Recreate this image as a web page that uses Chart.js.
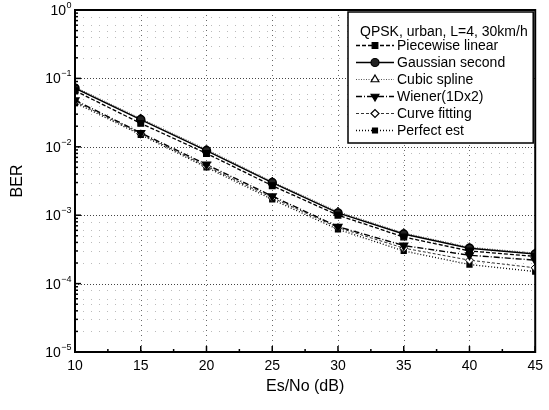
<!DOCTYPE html>
<html>
<head>
<meta charset="utf-8">
<script src="https://cdn.jsdelivr.net/npm/chart.js@4.4.1/dist/chart.umd.min.js"></script>
<style>
  html, body { margin: 0; padding: 0; background: #fff; }
  #wrap { width: 549px; height: 410px; }
</style>
</head>
<body>
<div id="wrap"><canvas id="myChart" width="549" height="410"></canvas></div>
<script>
// values
var snr = [10, 15, 20, 25, 30, 35, 40, 45];
var piecewise = [0.066, 0.022, 0.0080, 0.0027, 0.00100, 0.00048, 0.00030, 0.00025];
var gaussian  = [0.072, 0.025, 0.0088, 0.0030, 0.00108, 0.00053, 0.00033, 0.00027];
var cubic     = [0.075, 0.026, 0.0092, 0.0031, 0.00113, 0.00055, 0.00034, 0.00028];
var wiener    = [0.048, 0.016, 0.0055, 0.0019, 0.00068, 0.00036, 0.00026, 0.00022];
var curvefit  = [0.046, 0.0155, 0.0052, 0.0018, 0.00066, 0.00033, 0.00022, 0.00017];
var perfect   = [0.044, 0.015, 0.0050, 0.0017, 0.00062, 0.00030, 0.00019, 0.00015];
var xTicks = [10, 15, 20, 25, 30, 35, 40, 45];
var yExps = [0, -1, -2, -3, -4, -5];
var legendTitle = 'QPSK, urban, L=4, 30km/h';
var FONT = '"Liberation Sans", Arial, sans-serif';

function pts(arr) {
  var out = [];
  for (var i = 0; i < snr.length; i++) out.push({x: snr[i], y: arr[i]});
  return out;
}

var gridPlugin = {
  id: 'gridPlugin',
  beforeDatasetsDraw: function(chart) {
    var ctx = chart.ctx, a = chart.chartArea;
    var xs = chart.scales.x, ys = chart.scales.y;
    ctx.save();
    ctx.lineWidth = 1;
    // minor horizontal dotted lines
    ctx.strokeStyle = '#bbb';
    ctx.setLineDash([1, 7]);
    for (var e = -5; e < 0; e++) {
      for (var m = 2; m <= 9; m++) {
        if (m === 7 || m === 9) continue;
        var py = Math.round(ys.getPixelForValue(m * Math.pow(10, e))) + 0.5;
        ctx.beginPath(); ctx.moveTo(a.left, py); ctx.lineTo(a.right, py); ctx.stroke();
      }
    }
    // major dotted lines
    ctx.strokeStyle = '#444';
    ctx.setLineDash([1, 2]);
    for (var k = -4; k < 0; k++) {
      var py2 = Math.round(ys.getPixelForValue(Math.pow(10, k))) + 0.5;
      ctx.beginPath(); ctx.moveTo(a.left, py2); ctx.lineTo(a.right, py2); ctx.stroke();
    }
    ctx.strokeStyle = '#666';
    ctx.setLineDash([1, 4]);
    for (var i = 1; i < xTicks.length - 1; i++) {
      var px = Math.round(xs.getPixelForValue(xTicks[i])) + 0.5;
      ctx.beginPath(); ctx.moveTo(px, a.top); ctx.lineTo(px, a.bottom); ctx.stroke();
    }
    ctx.restore();
  },
  afterDraw: function(chart) {
    var ctx = chart.ctx, a = chart.chartArea;
    var xs = chart.scales.x, ys = chart.scales.y;
    ctx.save();
    // frame
    ctx.strokeStyle = '#000';
    ctx.lineWidth = 2;
    ctx.strokeRect(a.left, a.top, a.right - a.left, a.bottom - a.top);
    // inward tick marks
    ctx.lineWidth = 1.5;
    for (var v = 10; v <= 45; v += 2.5) {
      var px = xs.getPixelForValue(v);
      var len = (v % 5 === 0) ? 6 : 3;
      ctx.beginPath(); ctx.moveTo(px, a.bottom); ctx.lineTo(px, a.bottom - len); ctx.stroke();
    }
    for (var e = -5; e < 0; e++) {
      for (var m = 1; m <= 9; m++) {
        var py = ys.getPixelForValue(m * Math.pow(10, e));
        var l2 = m === 1 ? 6 : 3;
        ctx.beginPath(); ctx.moveTo(a.left, py); ctx.lineTo(a.left + l2, py); ctx.stroke();
      }
    }
    // y tick labels with superscript exponents
    ctx.fillStyle = '#000';
    ctx.textBaseline = 'alphabetic';
    yExps.forEach(function(ex) {
      var py = ys.getPixelForValue(Math.pow(10, ex));
      ctx.textAlign = 'left';
      var expTxt = String(ex).replace('-', '\u2212');
      ctx.font = '9px ' + FONT;
      var ew = ctx.measureText(expTxt).width;
      ctx.font = '14px ' + FONT;
      var bw = ctx.measureText('10').width;
      var x0 = a.left - 4 - ew - bw;
      ctx.fillText('10', x0, py + 5);
      ctx.font = '9px ' + FONT;
      ctx.fillText(expTxt, x0 + bw + 0.5, py - 2);
    });
    // legend box
    var bx = 348, by = 12, bw2 = a.right - 2 - bx, bh = 131;
    ctx.fillStyle = '#fff';
    ctx.fillRect(bx, by, bw2, bh);
    ctx.strokeStyle = '#000';
    ctx.lineWidth = 1.5;
    ctx.strokeRect(bx, by, bw2, bh);
    ctx.fillStyle = '#000';
    ctx.font = '14px ' + FONT;
    ctx.textBaseline = 'middle';
    ctx.textAlign = 'left';
    ctx.fillText(legendTitle, 360, 32);
    chart.data.datasets.forEach(function(ds, i) {
      var yy = 45.5 + i * 17;
      ctx.save();
      ctx.strokeStyle = ds.borderColor;
      ctx.lineWidth = ds.borderWidth;
      ctx.setLineDash(ds.borderDash || []);
      ctx.beginPath(); ctx.moveTo(356, yy); ctx.lineTo(394, yy); ctx.stroke();
      ctx.setLineDash([]);
      ctx.fillStyle = ds.pointBackgroundColor;
      ctx.strokeStyle = ds.pointBorderColor;
      ctx.lineWidth = 1.2;
      Chart.helpers.drawPoint(ctx, {
        pointStyle: ds.pointStyle, rotation: ds.pointRotation || 0,
        radius: ds.pointRadius, borderWidth: 1.2
      }, 375, yy);
      ctx.restore();
      ctx.fillStyle = '#000';
      ctx.fillText(ds.label, 397, yy + 0.5);
    });
    ctx.restore();
  }
};

var ctx = document.getElementById('myChart').getContext('2d');
var myChart = new Chart(ctx, {
  type: 'line',
  data: {
    datasets: [{
      label: 'Piecewise linear', data: pts(piecewise),
      borderColor: '#000', borderWidth: 1.3, borderDash: [4, 2],
      pointStyle: 'rect', pointRadius: 4, pointBackgroundColor: '#000', pointBorderColor: '#000'
    }, {
      label: 'Gaussian second', data: pts(gaussian),
      borderColor: '#000', borderWidth: 1.5,
      pointStyle: 'circle', pointRadius: 4, pointBackgroundColor: '#222', pointBorderColor: '#000'
    }, {
      label: 'Cubic spline', data: pts(cubic),
      borderColor: '#555', borderWidth: 1, borderDash: [1, 1.5],
      pointStyle: 'triangle', pointRadius: 4.5, pointBackgroundColor: '#fff', pointBorderColor: '#000'
    }, {
      label: 'Wiener(1Dx2)', data: pts(wiener),
      borderColor: '#000', borderWidth: 1.4, borderDash: [6, 2, 1, 2],
      pointStyle: 'triangle', pointRotation: 180, pointRadius: 4.5, pointBackgroundColor: '#000', pointBorderColor: '#000'
    }, {
      label: 'Curve fitting', data: pts(curvefit),
      borderColor: '#333', borderWidth: 1, borderDash: [3, 2],
      pointStyle: 'rectRot', pointRadius: 4, pointBackgroundColor: '#fff', pointBorderColor: '#000'
    }, {
      label: 'Perfect est', data: pts(perfect),
      borderColor: '#000', borderWidth: 1.3, borderDash: [1, 2],
      pointStyle: 'rect', pointRadius: 3.5, pointBackgroundColor: '#000', pointBorderColor: '#000'
    }]
  },
  options: {
    responsive: false,
    animation: false,
    layout: { padding: { top: 10, right: 13, left: 0, bottom: 14 } },
    plugins: { legend: { display: false }, tooltip: { enabled: false } },
    elements: { line: { tension: 0 } },
    scales: {
      x: {
        type: 'linear', min: 10, max: 45,
        afterBuildTicks: function(s) { s.ticks = xTicks.map(function(v) { return {value: v}; }); },
        afterFit: function(s) { s.height = 44; },
        grid: { display: false, drawTicks: false, tickLength: 0 },
        border: { display: false },
        ticks: { color: '#000', padding: 6, font: { family: FONT, size: 14 } },
        title: { display: true, text: 'Es/No (dB)', color: '#000', padding: { top: 0, bottom: 0 },
          font: { family: FONT, size: 16 } }
      },
      y: {
        type: 'logarithmic', min: 1e-5, max: 1,
        afterBuildTicks: function(s) {
          var t = [];
          for (var e = -5; e <= 0; e++) t.push({value: Math.pow(10, e)});
          s.ticks = t;
        },
        afterFit: function(s) { s.width = 75; },
        grid: { display: false },
        border: { display: false },
        ticks: { display: false },
        title: { display: true, text: 'BER', color: '#000', padding: { top: 8, bottom: 0 },
          font: { family: FONT, size: 16 } }
      }
    }
  },
  plugins: [gridPlugin]
});
</script>
</body>
</html>
